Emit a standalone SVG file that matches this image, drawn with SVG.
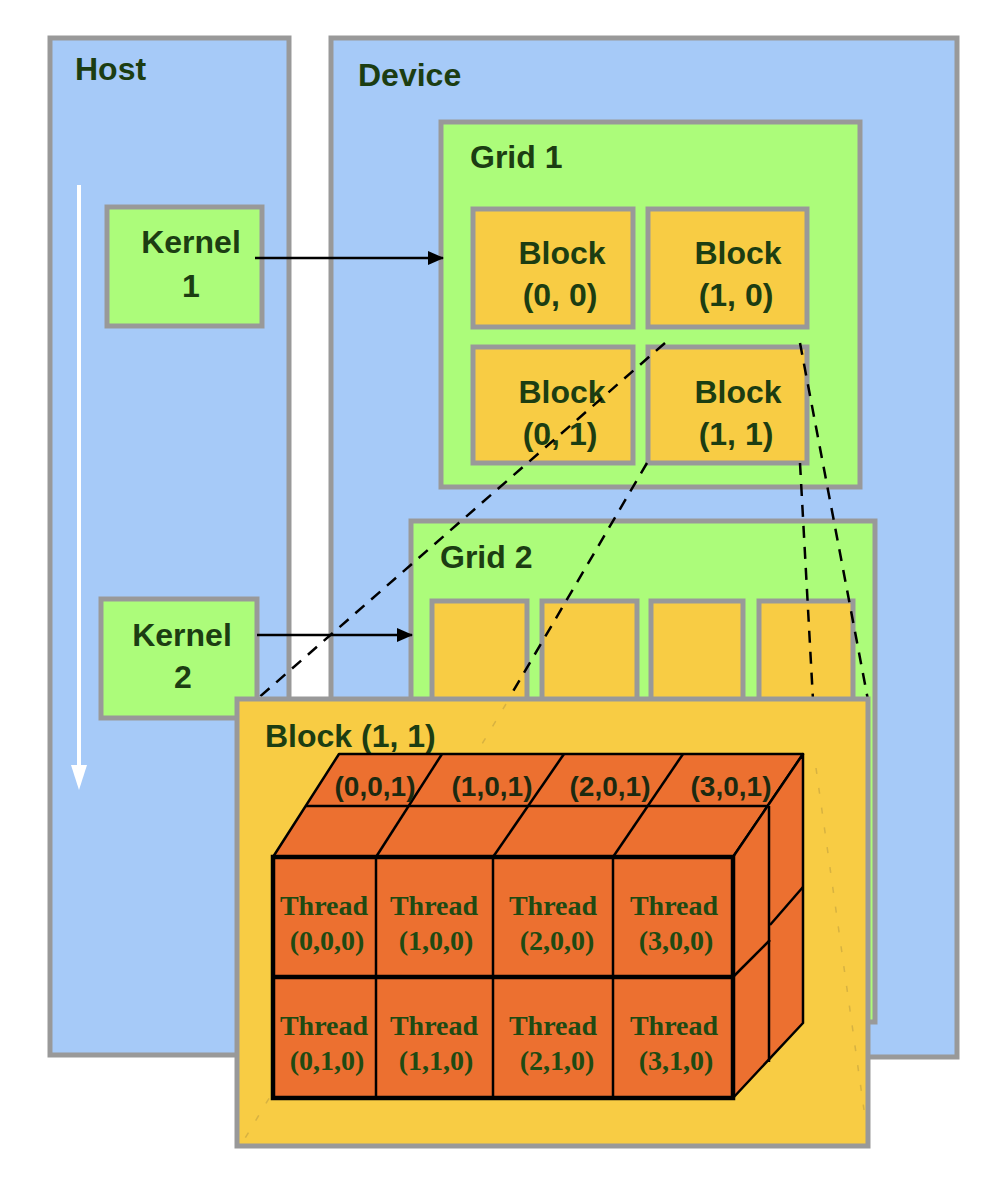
<svg xmlns="http://www.w3.org/2000/svg" width="988" height="1180" viewBox="0 0 988 1180">
<defs>
<style>
.pane{fill:#a6caf8;stroke:#999;stroke-width:5}
.grn{fill:#acfc7a;stroke:#999;stroke-width:5}
.blk{fill:#f8cc44;stroke:#999;stroke-width:5}
.lbl{font-family:"Liberation Sans",Arial,sans-serif;font-weight:bold;font-size:32px;fill:#1c3d12}
.mid{text-anchor:middle}
.top{font-family:"Liberation Sans",Arial,sans-serif;font-weight:bold;font-size:28px;fill:#1c2a10;text-anchor:middle}
.thr{font-family:"Liberation Serif","Times New Roman",serif;font-weight:bold;font-size:28px;fill:#1f4a12;text-anchor:middle}
.face{fill:#ec7030;stroke:#000;stroke-width:2.5;stroke-linejoin:round}
.edge{stroke:#000;stroke-width:2.5;fill:none}
.thick{stroke:#000;stroke-width:4.5;fill:none}
.dash{stroke:#000;stroke-width:2.5;stroke-dasharray:12 9;fill:none}
.faint{stroke:#c9a640;stroke-width:1.5;stroke-dasharray:6 14;fill:none;opacity:0.7}
.arr{stroke:#000;stroke-width:2.5;fill:none}
</style>
<marker id="ah" markerWidth="16" markerHeight="14" refX="15" refY="7" orient="auto" markerUnits="userSpaceOnUse">
<path d="M0,0 L16,7 L0,14 Z" fill="#000"/>
</marker>
</defs>

<g id="host">
<rect class="pane" x="50" y="38" width="239" height="1017"/>
<text class="lbl" x="75" y="80">Host</text>
<line x1="79" y1="185" x2="79" y2="770" stroke="#fff" stroke-width="4"/>
<polygon points="71,765 87,765 79,790" fill="#fff"/>
</g>

<g id="device">
<rect class="pane" x="331" y="38" width="626" height="1019"/>
<text class="lbl" x="358" y="86">Device</text>
</g>

<g id="kernel1">
<rect class="grn" x="107" y="207" width="155" height="119"/>
<text class="lbl mid" x="191" y="253">Kernel</text>
<text class="lbl mid" x="191" y="297">1</text>
</g>

<g id="kernel2">
<rect class="grn" x="101" y="599" width="156" height="119"/>
<text class="lbl mid" x="182" y="646">Kernel</text>
<text class="lbl mid" x="183" y="688">2</text>
</g>

<g id="grid1">
<rect class="grn" x="441" y="122" width="419" height="365"/>
<text class="lbl" x="470" y="168">Grid 1</text>
<g id="block00">
<rect class="blk" x="473" y="209" width="160" height="118"/>
<text class="lbl mid" x="562" y="264">Block</text>
<text class="lbl mid" x="560" y="306">(0, 0)</text>
</g>
<g id="block10">
<rect class="blk" x="648" y="209" width="159" height="118"/>
<text class="lbl mid" x="738" y="264">Block</text>
<text class="lbl mid" x="736" y="306">(1, 0)</text>
</g>
<g id="block01">
<rect class="blk" x="473" y="347" width="160" height="116"/>
<text class="lbl mid" x="562" y="403">Block</text>
<text class="lbl mid" x="560" y="445">(0, 1)</text>
</g>
<g id="block11">
<rect class="blk" x="648" y="347" width="159" height="116"/>
<text class="lbl mid" x="738" y="403">Block</text>
<text class="lbl mid" x="736" y="445">(1, 1)</text>
</g>
</g>

<g id="grid2">
<rect class="grn" x="411" y="521" width="464" height="501"/>
<text class="lbl" x="440" y="568">Grid 2</text>
<rect class="blk" x="432" y="601" width="95" height="200"/>
<rect class="blk" x="542" y="601" width="95" height="200"/>
<rect class="blk" x="651" y="601" width="92" height="200"/>
<rect class="blk" x="759" y="601" width="94" height="200"/>
</g>

<g id="connectors">
<line class="arr" x1="255" y1="258" x2="443" y2="258" marker-end="url(#ah)"/>
<line class="arr" x1="257" y1="635" x2="412" y2="635" marker-end="url(#ah)"/>
<line class="dash" x1="665" y1="343" x2="256" y2="700"/>
<line class="dash" x1="647" y1="463" x2="508" y2="700"/>
<line class="dash" x1="800" y1="343" x2="868" y2="700"/>
<line class="dash" x1="800" y1="463" x2="813" y2="700"/>
</g>

<g id="block11-detail">
<rect class="blk" x="237" y="699" width="631" height="447"/>
<line class="faint" x1="506" y1="704" x2="244" y2="1140"/>
<line class="faint" x1="816" y1="768" x2="864" y2="1110"/>
<text class="lbl" x="265" y="747">Block (1, 1)</text>
<g id="cube">
<polygon class="face" points="273,857 733,857 803,754 339,754"/>
<polygon class="face" points="733,857 803,754 803,1023 733,1098"/>
<rect x="273" y="857" width="460" height="241" fill="#ec7030" stroke="#000" stroke-width="4.5"/>
<line class="edge" x1="306" y1="806" x2="769" y2="806"/>
<line class="edge" x1="376" y1="857" x2="442" y2="754" stroke-width="3"/>
<line class="edge" x1="493" y1="857" x2="564" y2="754" stroke-width="3"/>
<line class="edge" x1="613" y1="857" x2="683" y2="754" stroke-width="3"/>
<line class="edge" x1="769" y1="806" x2="769" y2="1062"/>
<line class="edge" x1="733" y1="977" x2="770" y2="940" stroke-width="3"/>
<line class="edge" x1="770" y1="925" x2="803" y2="887" stroke-width="3"/>
<line class="edge" x1="376" y1="857" x2="376" y2="1098"/>
<line class="edge" x1="493" y1="857" x2="493" y2="1098"/>
<line class="edge" x1="613" y1="857" x2="613" y2="1098"/>
<line class="thick" x1="273" y1="977" x2="733" y2="977"/>
<text class="top" x="375" y="796">(0,0,1)</text>
<text class="top" x="492" y="796">(1,0,1)</text>
<text class="top" x="610" y="796">(2,0,1)</text>
<text class="top" x="731" y="796">(3,0,1)</text>
<text class="thr" x="324" y="915">Thread</text>
<text class="thr" x="327" y="950">(0,0,0)</text>
<text class="thr" x="434" y="915">Thread</text>
<text class="thr" x="436" y="950">(1,0,0)</text>
<text class="thr" x="553" y="915">Thread</text>
<text class="thr" x="557" y="950">(2,0,0)</text>
<text class="thr" x="674" y="915">Thread</text>
<text class="thr" x="676" y="950">(3,0,0)</text>
<text class="thr" x="324" y="1035">Thread</text>
<text class="thr" x="327" y="1070">(0,1,0)</text>
<text class="thr" x="434" y="1035">Thread</text>
<text class="thr" x="436" y="1070">(1,1,0)</text>
<text class="thr" x="553" y="1035">Thread</text>
<text class="thr" x="557" y="1070">(2,1,0)</text>
<text class="thr" x="674" y="1035">Thread</text>
<text class="thr" x="676" y="1070">(3,1,0)</text>
</g>
</g>
</svg>
